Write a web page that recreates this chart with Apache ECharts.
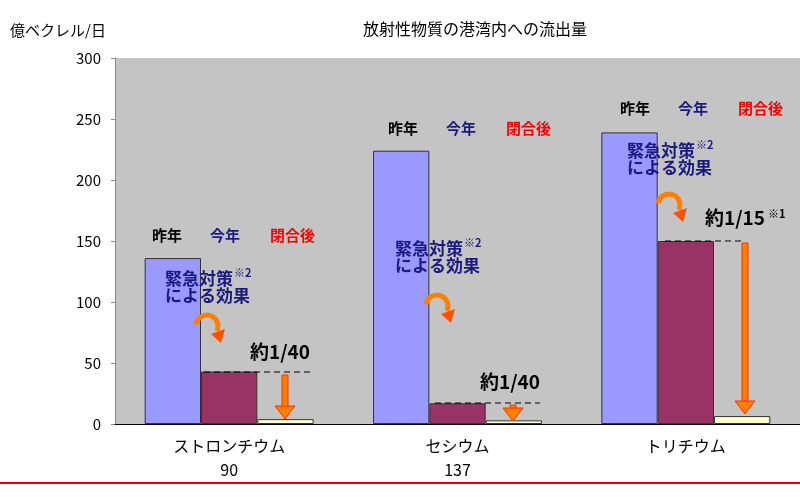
<!DOCTYPE html>
<html><head><meta charset="utf-8">
<script src="https://cdn.jsdelivr.net/npm/echarts@6/dist/echarts.min.js"></script>
<style>html,body{margin:0;padding:0;background:#fff}#c{width:800px;height:500px}</style>
</head><body><div id="c"></div>
<script>
const categories = ['ストロンチウム\n90', 'セシウム\n137', 'トリチウム'];
const lastYear = [136, 224, 239];
const thisYear = [43, 17, 150];
const afterClosure = [4, 3, 6.5];
const yTicks = [0, 50, 100, 150, 200, 250, 300];

const F = '"Noto Sans CJK JP", sans-serif';
const chart = echarts.init(document.getElementById('c'));
function head3(x, y) {
  return [
    {type:'text', left:x, top:y, style:{text:'昨年', font:'bold 15px '+F, fill:'#000'}},
    {type:'text', left:x+58, top:y, style:{text:'今年', font:'bold 15px '+F, fill:'#1a1a80'}},
    {type:'text', left:x+118, top:y, style:{text:'閉合後', font:'bold 15px '+F, fill:'#ff0000'}}
  ];
}
function arrowDown(x, y1, y2) {
  return [
    {type:'rect', shape:{x:x-3, y:y1, width:6, height:y2-y1-12}, style:{fill:'#ff8000', stroke:'#ff3000'}},
    {type:'polygon', shape:{points:[[x-10,y2-13],[x+10,y2-13],[x,y2]]}, style:{fill:'#ff8000', stroke:'#ff3000'}}
  ];
}
function dash(x1, x2, y) {
  return {type:'line', shape:{x1:x1,y1:y,x2:x2,y2:y}, style:{stroke:'#000', lineDash:[6,4], lineWidth:1.2}};
}
function curl(x, y) {
  return [
    {type:'arc', shape:{cx:x+12, cy:y+12, r:11, startAngle:Math.PI*1.05, endAngle:Math.PI*0.15}, style:{stroke:'#ff8000', lineWidth:5, fill:null}},
    {type:'polygon', shape:{points:[[x+16,y+20],[x+30,y+15],[x+26,y+29]]}, style:{fill:'#ff5000'}}
  ];
}
function emText(x, y, t) {
  return [
    {type:'text', left:x, top:y, style:{text:t, font:'bold 17px '+F, fill:'#1a1a80'}}
  ];
}
const g = [].concat(
  head3(152, 228), head3(388, 121), head3(620, 101),
  [dash(204, 312, 372), dash(435, 540, 403), dash(665, 745, 241)],
  arrowDown(285, 375, 419), arrowDown(513, 405, 421), arrowDown(745, 243, 414),
  emText(165, 270, '緊急対策\nによる効果'), emText(395, 240, '緊急対策\nによる効果'), emText(627, 142, '緊急対策\nによる効果'),
  [{type:'text', left:234, top:267, style:{text:'※2', font:'bold 11px '+F, fill:'#1a1a80'}},
   {type:'text', left:464, top:237, style:{text:'※2', font:'bold 11px '+F, fill:'#1a1a80'}},
   {type:'text', left:696, top:139, style:{text:'※2', font:'bold 11px '+F, fill:'#1a1a80'}},
   {type:'text', left:250, top:342, style:{text:'約1/40', font:'bold 19px '+F, fill:'#000'}},
   {type:'text', left:480, top:372, style:{text:'約1/40', font:'bold 19px '+F, fill:'#000'}},
   {type:'text', left:705, top:208, style:{text:'約1/15', font:'bold 19px '+F, fill:'#000'}},
   {type:'text', left:768, top:208, style:{text:'※1', font:'bold 11px '+F, fill:'#000'}},
   {type:'line', shape:{x1:0,y1:483,x2:800,y2:483}, style:{stroke:'#e00000', lineWidth:2}}],
  curl(195, 314), curl(425, 294), curl(657, 193)
).map(e => Object.assign(e, {z:100}));
chart.setOption({
  backgroundColor:'#fff',
  animation:false,
  title:{text:'放射性物質の港湾内への流出量', left:470, top:16, textAlign:'center', textStyle:{fontFamily:F, fontSize:16, fontWeight:'normal', color:'#000'}},
  grid:{left:115, right:0, top:58, bottom:76, show:true, backgroundColor:'#c4c4c4', borderWidth:0},
  xAxis:{type:'category', data:categories, axisTick:{show:false}, axisLine:{lineStyle:{color:'#000'}},
    axisLabel:{fontFamily:F, fontSize:16, color:'#000', lineHeight:24, margin:10}},
  yAxis:{type:'value', min:yTicks[0], max:yTicks[yTicks.length-1], interval:50, name:'億ベクレル/日',
    nameLocation:'end', nameGap:0, nameTextStyle:{fontFamily:F, fontSize:15, color:'#000', align:'left', padding:[0,0,20,-105]},
    splitLine:{show:false}, axisLine:{show:true, lineStyle:{color:'#888'}}, axisTick:{show:true, length:4, lineStyle:{color:'#888'}},
    axisLabel:{fontFamily:F, fontSize:15, color:'#000', margin:14}},
  series:[
    {type:'bar', data:lastYear, barGap:'0%', barCategoryGap:'26%', itemStyle:{color:'#9999ff', borderColor:'#333', borderWidth:1}},
    {type:'bar', data:thisYear, itemStyle:{color:'#993366', borderColor:'#333', borderWidth:1}},
    {type:'bar', data:afterClosure, itemStyle:{color:'#ffffcc', borderColor:'#333', borderWidth:1}}
  ],
  graphic:g
});
</script></body></html>
